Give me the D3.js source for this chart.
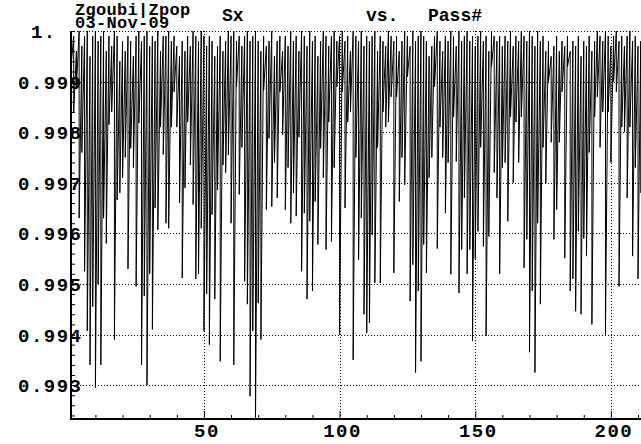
<!DOCTYPE html>
<html>
<head>
<meta charset="utf-8">
<script src="https://cdn.jsdelivr.net/npm/d3@7"></script>
<style>
  body { margin: 0; background: #fff; }
  text { font-family: "Liberation Mono", "DejaVu Sans Mono", monospace; font-weight: bold; fill: #000; }
</style>
</head>
<body>
<div id="chart"></div>
<script>
// pass numbers run 1..211, two tracked values per pass (upper and lower Sx)
let sxHigh = [
  0.9998, 0.9999, 0.9996, 1.0000, 0.9997, 0.9999, 1.0000, 0.9995, 0.9999, 1.0000,
  0.9998, 0.9999, 1.0000, 0.9996, 0.9999, 0.9997, 1.0000, 0.9999, 0.9994, 0.9998,
  0.9996, 0.9999, 0.9998, 0.9995, 0.9999, 1.0000, 0.9998, 0.9999, 1.0000, 0.9997,
  0.9999, 0.9998, 1.0000, 0.9996, 0.9999, 0.9999, 1.0000, 0.9998, 0.9999, 0.9997,
  0.9995, 0.9998, 0.9996, 0.9999, 0.9997, 1.0000, 0.9999, 0.9998, 1.0000, 0.9999,
  0.9997, 0.9999, 0.9998, 0.9995, 0.9997, 0.9999, 0.9996, 0.9998, 1.0000, 0.9999,
  1.0000, 0.9998, 0.9999, 0.9997, 0.9999, 1.0000, 0.9998, 0.9999, 1.0000, 0.9998,
  0.9996, 0.9999, 0.9997, 0.9998, 1.0000, 0.9995, 0.9998, 0.9999, 0.9996, 0.9999,
  0.9997, 1.0000, 0.9998, 0.9999, 0.9996, 1.0000, 0.9999, 0.9997, 1.0000, 0.9998,
  0.9999, 0.9995, 0.9998, 1.0000, 0.9999, 0.9997, 0.9999, 1.0000, 0.9998, 0.9999,
  1.0000, 0.9998, 0.9999, 0.9996, 1.0000, 0.9999, 0.9998, 1.0000, 0.9997, 0.9999,
  0.9998, 0.9999, 1.0000, 0.9996, 0.9999, 0.9998, 0.9997, 1.0000, 0.9999, 0.9998,
  0.9999, 0.9996, 0.9998, 1.0000, 0.9999, 0.9997, 1.0000, 0.9998, 0.9999, 1.0000,
  0.9999, 0.9998, 0.9995, 0.9997, 0.9999, 1.0000, 0.9998, 0.9996, 0.9999, 0.9998,
  1.0000, 0.9999, 0.9997, 1.0000, 0.9998, 0.9999, 1.0000, 0.9998, 0.9999, 0.9997,
  0.9999, 1.0000, 0.9998, 0.9999, 0.9996, 1.0000, 0.9999, 0.9998, 0.9999, 0.9997,
  0.9999, 0.9998, 1.0000, 0.9997, 0.9999, 0.9998, 1.0000, 0.9999, 0.9998, 1.0000,
  0.9999, 0.9997, 1.0000, 0.9998, 0.9999, 0.9996, 0.9998, 0.9995, 0.9997, 0.9999,
  0.9996, 0.9998, 0.9997, 0.9999, 0.9996, 0.9998, 0.9997, 0.9999, 0.9995, 0.9998,
  0.9997, 0.9999, 0.9996, 0.9998, 1.0000, 0.9999, 0.9998, 1.0000, 0.9999, 0.9997,
  0.9999, 1.0000, 0.9998, 0.9999, 0.9997, 0.9999, 1.0000, 0.9998, 0.9999, 0.9997, 0.9998
];
let sxLow = [
  0.9993, 0.9984, 0.9989, 0.9963, 0.9976, 0.99525, 0.99407, 0.9934, 0.99455, 0.99295,
  0.9950, 0.9934, 0.9963, 0.9958, 0.99815, 0.9984, 0.9939, 0.99666, 0.9968, 0.9971,
  0.9975, 0.9953, 0.99768, 0.9973, 0.99495, 0.99818, 0.9934, 0.99476, 0.9930, 0.9952,
  0.9941, 0.9965, 0.99607, 0.9981, 0.99756, 0.9962, 0.9961, 0.9981, 0.9988, 0.9981,
  0.9966, 0.99512, 0.9969, 0.9982, 0.99735, 0.99657, 0.9951, 0.9952, 0.9961, 0.99407,
  0.9948, 0.9938, 0.99637, 0.9947, 0.99686, 0.99347, 0.99735, 0.9972, 0.99755, 0.9962,
  0.9934, 0.9989, 0.99677, 0.9977, 0.99505, 0.9946, 0.99278, 0.99407, 0.99225, 0.99462,
  0.9939, 0.99883, 0.99647, 0.99788, 0.99653, 0.9974, 0.9967, 0.9988, 0.99795, 0.99647,
  0.9973, 0.9962, 0.9968, 0.99634, 0.9979, 0.99525, 0.9964, 0.9947, 0.99624, 0.99486,
  0.99663, 0.99578, 0.99768, 0.9971, 0.99568, 0.9982, 0.99584, 0.9973, 0.9989, 0.9940,
  0.9988, 0.9965, 0.9982, 0.9984, 0.9935, 0.9975, 0.99548, 0.9963, 0.9944, 0.99403,
  0.99423, 0.99597, 0.99502, 0.9977, 0.99502, 0.9984, 0.9981, 0.9982, 0.9987, 0.99522,
  0.9987, 0.99663, 0.9975, 0.99696, 0.9991, 0.99466, 0.99538, 0.99325, 0.99486, 0.99347,
  0.99578, 0.99522, 0.9971, 0.9975, 0.9989, 0.9957, 0.9981, 0.9975, 0.9964, 0.9974,
  0.99519, 0.9983, 0.99742, 0.99482, 0.99568, 0.9967, 0.9952, 0.99568, 0.99387, 0.9955,
  0.99604, 0.9977, 0.99574, 0.99397, 0.99594, 0.9993, 0.9972, 0.9967, 0.9952, 0.9973,
  0.9974, 0.99624, 0.9983, 0.9970, 0.9982, 0.9974, 0.9983, 0.99532, 0.99588, 0.99365,
  0.99486, 0.99325, 0.9962, 0.9946, 0.9977, 0.99699, 0.9990, 0.9978, 0.99588, 0.99647,
  0.9978, 0.9988, 0.99551, 0.9993, 0.99486, 0.9951, 0.99446, 0.99604, 0.9944, 0.9959,
  0.99555, 0.9976, 0.9942, 0.9983, 0.9987, 0.9977, 0.9984, 0.9940, 0.9984, 0.9974,
  0.9990, 0.9988, 0.99495, 0.9981, 0.9980, 0.9967, 0.9981, 0.99555, 0.9973, 0.9951, 0.9968
];

let xMajorTicks = [50, 100, 150, 200];
let xMinorTicks = [10, 20, 30, 40, 60, 70, 80, 90, 110, 120, 130, 140, 160, 170, 180, 190, 210];
let yMajorTicks = [0.993, 0.994, 0.995, 0.996, 0.997, 0.998, 0.999, 1.0];

let titleLines = ["Zgoubi|Zpop", "03-Nov-09"];
let yName = "Sx", xName = "Pass#";

let width = 641, height = 444;
let plot = { left: 71, right: 641, top: 31, bottom: 419 };

let svg = d3
  .select("#chart")
  .append("svg")
  .attr("width", width)
  .attr("height", height);

let x = d3.scaleLinear().domain([1, 211.1]).range([plot.left, plot.right]);
let y = d3.scaleLinear().domain([0.99233, 1.0]).range([plot.bottom, plot.top]);

// dotted grid
svg
  .append("g")
  .selectAll("line")
  .data(yMajorTicks)
  .enter()
  .append("line")
  .attr("x1", plot.left)
  .attr("x2", plot.right)
  .attr("y1", (d) => Math.round(y(d)) + 0.5)
  .attr("y2", (d) => Math.round(y(d)) + 0.5)
  .style("stroke", "#000")
  .style("stroke-dasharray", "1,2");

svg
  .append("g")
  .selectAll("line")
  .data(xMajorTicks)
  .enter()
  .append("line")
  .attr("x1", (d) => Math.round(x(d)) + 0.5)
  .attr("x2", (d) => Math.round(x(d)) + 0.5)
  .attr("y1", plot.top)
  .attr("y2", plot.bottom)
  .style("stroke", "#000")
  .style("stroke-dasharray", "1,2");

// interleave the two values of every pass into one polyline
let points = [];
sxHigh.forEach(function (h, i) {
  points.push([i + 1, h]);
  points.push([i + 1, sxLow[i]]);
});

svg
  .append("clipPath")
  .attr("id", "clip")
  .append("rect")
  .attr("x", plot.left)
  .attr("y", plot.top - 1)
  .attr("width", plot.right - plot.left)
  .attr("height", plot.bottom - plot.top + 1);

svg
  .append("path")
  .datum(points)
  .attr("clip-path", "url(#clip)")
  .attr("d", d3.line().x((d) => x(d[0])).y((d) => y(d[1])))
  .style("fill", "none")
  .style("stroke", "#000")
  .style("stroke-width", 1);

// axes with inward ticks
let yAxis = d3
  .axisRight(y)
  .tickValues(d3.range(0.9924, 1.00001, 0.0002))
  .tickSize(4)
  .tickFormat("");
svg
  .append("g")
  .attr("transform", "translate(" + plot.left + ",0)")
  .call(yAxis)
  .call((g) => g.select(".domain").remove());

let xAxis = d3
  .axisTop(x)
  .tickValues(xMinorTicks)
  .tickSize(4)
  .tickFormat("");
svg
  .append("g")
  .attr("transform", "translate(0," + plot.bottom + ")")
  .call(xAxis)
  .call((g) => g.select(".domain").remove());

svg
  .append("g")
  .attr("transform", "translate(0," + plot.bottom + ")")
  .call(d3.axisTop(x).tickValues(xMajorTicks).tickSize(8).tickFormat(""))
  .call((g) => g.select(".domain").remove());

svg
  .append("line")
  .attr("x1", plot.left)
  .attr("x2", plot.left)
  .attr("y1", plot.top)
  .attr("y2", plot.bottom + 1)
  .style("stroke", "#000")
  .style("stroke-width", 2);

svg
  .append("line")
  .attr("x1", plot.left)
  .attr("x2", plot.right)
  .attr("y1", plot.bottom)
  .attr("y2", plot.bottom)
  .style("stroke", "#000")
  .style("stroke-width", 2);

// tick labels
svg
  .append("g")
  .selectAll("text")
  .data(yMajorTicks)
  .enter()
  .append("text")
  .attr("x", 18)
  .attr("y", (d) => y(d) + 7)
  .style("font-size", "19px")
  .style("letter-spacing", "1.5px")
  .text((d) => (d === 1 ? "\u00a01." : d3.format(".3f")(d)));

svg
  .append("g")
  .selectAll("text")
  .data(xMajorTicks)
  .enter()
  .append("text")
  .attr("x", (d) => x(d) + 3)
  .attr("y", 437)
  .attr("text-anchor", "middle")
  .style("font-size", "19px")
  .style("letter-spacing", "1.5px")
  .text((d) => d);

// title block
svg
  .append("g")
  .selectAll("text")
  .data(titleLines)
  .enter()
  .append("text")
  .attr("x", 75)
  .attr("y", (d, i) => 15 + i * 13)
  .style("font-size", "17px")
  .style("letter-spacing", "0.3px")
  .text((d) => d);

svg.append("text").attr("x", 222).attr("y", 21).style("font-size", "18px").text(yName);
svg.append("text").attr("x", 366).attr("y", 21).style("font-size", "18px").text("vs.");
svg.append("text").attr("x", 428).attr("y", 21).style("font-size", "18px").text(xName);
</script>
</body>
</html>
